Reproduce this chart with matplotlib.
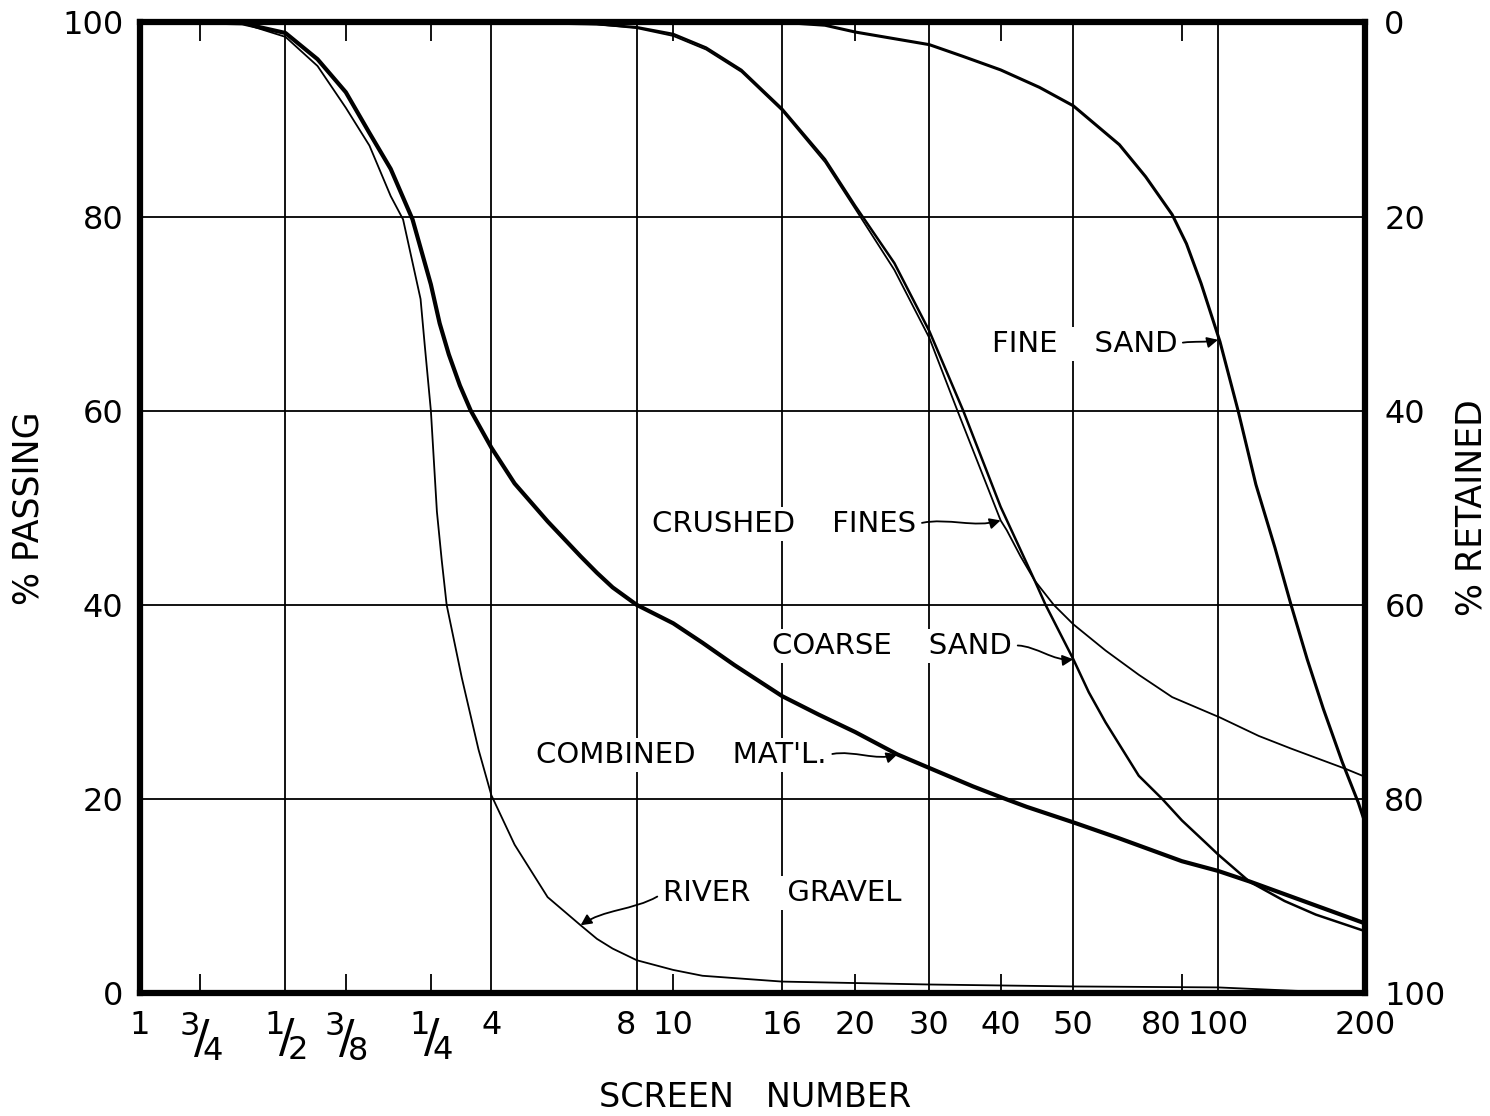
import numpy as np
import matplotlib
matplotlib.use("Agg")
from matplotlib import pyplot as plt
from matplotlib.patches import ConnectionStyle
from matplotlib.path import Path

# screen openings (mm) and the labels printed under them
sieve_mm = [25.4, 19.05, 12.7, 9.525, 6.35, 4.76, 2.38, 2.0, 1.19, 0.84,
            0.59, 0.42, 0.297, 0.177, 0.149, 0.074]
sieve_labels = ['1', r'$^3\!/\!_4$', r'$^1\!/\!_2$', r'$^3\!/\!_8$', r'$^1\!/\!_4$',
                '4', '8', '10', '16', '20', '30', '40', '50', '80', '100', '200']
sieve_major = [True, False, True, False, False, True, True, False, True, False,
               True, False, True, False, True, True]

# % passing
river_mm = [25.4, 19.05, 15.6, 12.7, 10.9, 9.525, 8.51, 7.69, 7.25, 6.67, 6.54,
            6.35, 6.17, 6.03, 5.89, 5.48, 5.06, 4.76, 4.26, 3.64, 3.11, 2.877,
            2.67, 2.38, 2.0, 1.74, 1.19, 0.84, 0.59, 0.297, 0.149, 0.103, 0.074]
river_pct = [100, 100, 99.9, 98.5, 95.5, 91.2, 87.3, 82.1, 79.7, 71.5, 66.8,
             60.0, 49.6, 44.6, 40.0, 32.5, 25.1, 20.4, 15.3, 9.9, 7.0, 5.6,
             4.6, 3.4, 2.4, 1.8, 1.2, 1.05, 0.9, 0.7, 0.6, 0.25, 0.0]

combined_mm = [25.4, 19.05, 15.6, 12.7, 10.9, 9.525, 8.51, 7.69, 6.93, 6.35,
               6.09, 5.83, 5.53, 5.25, 4.76, 4.26, 3.64, 3.11, 2.877, 2.67, 2.38,
               2.0, 1.74, 1.494, 1.19, 1.0, 0.84, 0.687, 0.59, 0.479, 0.42, 0.371,
               0.297, 0.24, 0.177, 0.149, 0.128, 0.074]
combined_pct = [100, 100, 99.9, 98.9, 96.2, 92.8, 88.6, 84.9, 79.7, 73.0,
                69.0, 65.8, 62.6, 60.0, 56.2, 52.5, 48.6, 45.0, 43.3, 41.8, 40.0,
                38.1, 36.1, 33.8, 30.6, 28.7, 26.9, 24.6, 23.2, 21.3, 20.2, 19.2,
                17.6, 16.0, 13.6, 12.6, 11.5, 7.2]

crushed_mm = [25.4, 4.76, 2.88, 2.38, 2.0, 1.71, 1.445, 1.19, 0.97, 0.84, 0.697,
              0.59, 0.516, 0.42, 0.408, 0.382, 0.357, 0.326, 0.297, 0.2547,
              0.2174, 0.1854, 0.1476, 0.1227, 0.1052, 0.081, 0.074]
crushed_pct = [100, 100, 99.8, 99.4, 98.6, 97.2, 94.9, 90.9, 85.6, 80.8, 74.5,
               67.5, 60.0, 48.7, 47.7, 45.0, 42.5, 40.0, 38.0, 35.3,
               32.8, 30.5, 28.4, 26.5, 25.2, 23.1, 22.3]

coarse_mm = [25.4, 4.76, 2.88, 2.38, 2.0, 1.71, 1.445, 1.19, 0.97, 0.84, 0.697,
             0.59, 0.502, 0.42, 0.357, 0.339, 0.297, 0.2759, 0.2547, 0.2174,
             0.1943, 0.177, 0.158, 0.149, 0.1283, 0.1085, 0.0935, 0.074]
coarse_pct = [100, 100, 99.8, 99.5, 98.8, 97.4, 95.1, 91.1, 85.9, 81.1, 75.2,
              68.2, 60.0, 50.1, 42.5, 40.0, 34.4, 31.0, 27.9, 22.4,
              20.0, 17.8, 15.5, 14.3, 11.5, 9.5, 8.1, 6.4]

fine_mm = [25.4, 1.19, 0.97, 0.84, 0.59, 0.503, 0.42, 0.349, 0.297, 0.2385,
           0.2104, 0.1854, 0.1732, 0.1615, 0.1476, 0.1354, 0.1244, 0.1136,
           0.1052, 0.0974, 0.0902, 0.0824, 0.0763, 0.074]
fine_pct = [100, 100, 99.7, 99.0, 97.7, 96.5, 95.1, 93.3, 91.4, 87.4,
            84.1, 80.2, 77.2, 73.1, 67.1, 60.0, 52.4, 45.9,
            40.0, 34.4, 29.3, 23.8, 19.6, 17.6]


class Squiggle(ConnectionStyle._Base):
    """S-shaped leader like the hand drawn ones"""
    def __init__(self, amp=8):
        self.amp = amp

    def connect(self, posA, posB):
        (x1, y1), (x2, y2) = posA, posB
        dx, dy = x2 - x1, y2 - y1
        d = np.hypot(dx, dy) or 1.0
        nx, ny = -dy / d * self.amp, dx / d * self.amp
        c1 = (x1 + dx / 3 + nx, y1 + dy / 3 + ny)
        c2 = (x1 + 2 * dx / 3 - nx, y1 + 2 * dy / 3 - ny)
        return Path([posA, c1, c2, posB],
                    [Path.MOVETO, Path.CURVE4, Path.CURVE4, Path.CURVE4])


plt.rcParams['font.family'] = ['DejaVu Sans']
fig = plt.figure(figsize=(14.9, 11.16), dpi=100)
ax = fig.add_axes([0.094, 0.110, 0.822, 0.870])

line_kw = dict(color='black', zorder=3, solid_joinstyle='round', solid_capstyle='round')
ax.plot(river_mm, river_pct, lw=1.3, **line_kw)
ax.plot(combined_mm, combined_pct, lw=3.0, **line_kw)
ax.plot(crushed_mm, crushed_pct, lw=1.3, **line_kw)
ax.plot(coarse_mm, coarse_pct, lw=1.8, **line_kw)
ax.plot(fine_mm, fine_pct, lw=2.2, **line_kw)

ax.set_xscale('log')
ax.set_xlim(25.4, 0.074)
ax.set_ylim(0, 100)

maj = [(m, l) for m, l, k in zip(sieve_mm, sieve_labels, sieve_major) if k]
mnr = [(m, l) for m, l, k in zip(sieve_mm, sieve_labels, sieve_major) if not k]
ax.set_xticks([m for m, _ in maj], [l for _, l in maj])
ax.set_xticks([m for m, _ in mnr], [l for _, l in mnr], minor=True)
ax.set_yticks([0, 20, 40, 60, 80, 100])

ax.grid(True, which='major', color='black', lw=1.3)
ax.tick_params(which='major', length=0, labelsize=23, pad=12)
ax.tick_params(axis='x', which='minor', direction='in', length=14, width=1.3,
               top=True, bottom=True, labelsize=23, pad=12)
for lbl in ax.get_xticklabels() + ax.get_xticklabels(minor=True):
    t = lbl.get_text()
    if '/' in t:
        lbl.set_fontsize(33)
    if t in ('8', '80'):
        lbl.set_horizontalalignment('right')

for s in ax.spines.values():
    s.set_linewidth(4.5)
    s.set_zorder(5)

sec = ax.secondary_yaxis('right', functions=(lambda p: 100 - p, lambda r: 100 - r))
sec.set_yticks([0, 20, 40, 60, 80, 100])
sec.tick_params(length=0, labelsize=23, pad=14)
sec.set_ylabel('% RETAINED', fontsize=25, va='center')
sec.yaxis.set_label_coords(1.087, 0.5, transform=ax.transAxes)

ax.set_ylabel('% PASSING', fontsize=25, va='center')
ax.yaxis.set_label_coords(-0.0914, 0.5)
ax.set_xlabel('SCREEN   NUMBER', fontsize=24, va='center')
ax.xaxis.set_label_coords(0.502, -0.107)

box = dict(facecolor='white', edgecolor='none', pad=2)
arrow = dict(arrowstyle='-|>', color='black', lw=1.3, mutation_scale=16)

notes = [
    ('FINE    SAND', (0.149, 67.3), (0.771, 0.669), (1, 0.5), 2),
    ('CRUSHED    FINES', (0.42, 48.7), (0.526, 0.483), (1, 0.5), 7),
    ('COARSE    SAND', (0.297, 34.4), (0.614, 0.358), (1, 0.5), 7),
    ("COMBINED    MAT'L.", (0.687, 24.6), (0.442, 0.245), (1, 0.5), 7),
    ('RIVER    GRAVEL', (3.11, 7.0), (0.524, 0.103), (0, 0.5), 7),
]
for txt, tip, pos, rel, amp in notes:
    ax.annotate(txt, xy=tip, xycoords='data', xytext=pos, textcoords='axes fraction',
                ha='center', va='center', fontsize=21, bbox=box, zorder=4,
                arrowprops=dict(arrow, relpos=rel, connectionstyle=Squiggle(amp),
                                shrinkA=2, shrinkB=0))

fig.savefig('out.png', dpi=100)
